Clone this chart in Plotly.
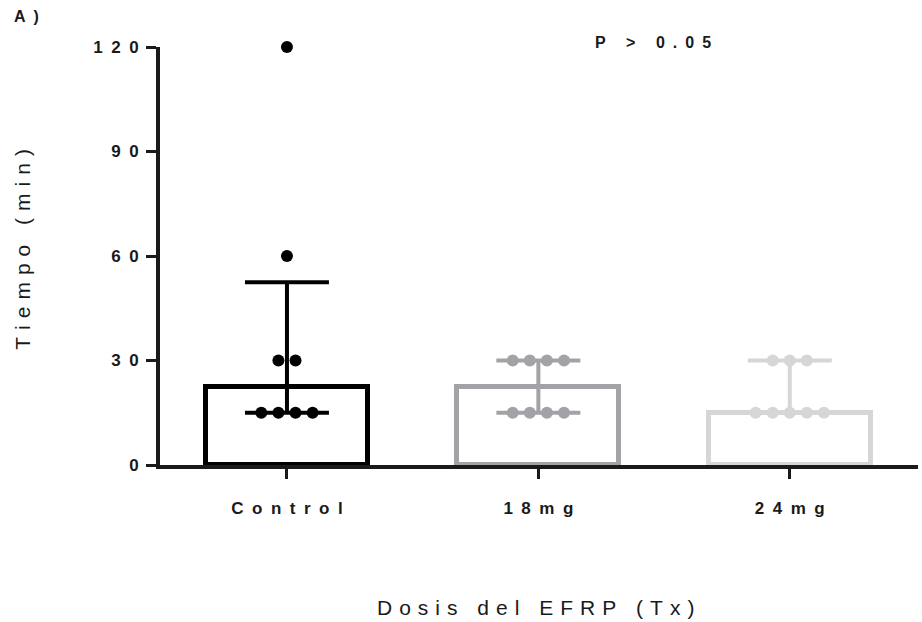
import numpy as np
import plotly.graph_objects as go

# ---- data ----
groups = ["Control", "18mg", "24mg"]
control_vals = [120, 60, 30, 30, 15, 15, 15, 15]
mg18_vals = [30, 30, 30, 30, 15, 15, 15, 15]
mg24_vals = [30, 30, 30, 15, 15, 15, 15, 15]
y_ticks = [0, 30, 60, 90, 120]

colors = ["#000000", "#a3a3a7", "#d6d6d6"]
FONT = "Liberation Sans, Arial, sans-serif"
TXT = "#1a1a1a"
EN = "\u2002"
THIRD = "\u2004"


def spaced(s, gap=EN):
    return gap.join(list(s))


series = [control_vals, mg18_vals, mg24_vals]
xpos = list(range(len(groups)))
medians = [float(np.median(v)) for v in series]
q1 = [float(np.percentile(v, 25, method="weibull")) for v in series]
q3 = [float(np.percentile(v, 75, method="weibull")) for v in series]

fig = go.Figure()

# bars (median)
for i in xpos:
    fig.add_trace(go.Bar(
        x=[i], y=[medians[i]], width=0.645,
        marker=dict(color="rgba(255,255,255,0)", line=dict(color=colors[i], width=5)),
        showlegend=False, hoverinfo="skip"))

# IQR error bars
for i in xpos:
    fig.add_trace(go.Scatter(
        x=[i], y=[medians[i]], mode="markers",
        marker=dict(size=1, color="rgba(0,0,0,0)"),
        error_y=dict(type="data", symmetric=False,
                     array=[q3[i] - medians[i]], arrayminus=[medians[i] - q1[i]],
                     color=colors[i], thickness=4, width=42),
        showlegend=False, hoverinfo="skip", cliponaxis=False))

# points (spread horizontally where values repeat)
spacing = 0.068
for i in xpos:
    vals = np.array(series[i])
    xs, ys = [], []
    for u in np.unique(vals):
        k = int(np.sum(vals == u))
        offs = (np.arange(k) - (k - 1) / 2) * spacing
        xs += list(i + offs)
        ys += [float(u)] * k
    fig.add_trace(go.Scatter(
        x=xs, y=ys, mode="markers",
        marker=dict(size=12, color=colors[i], line=dict(width=0)),
        showlegend=False, cliponaxis=False))

fig.update_layout(
    width=922, height=622,
    margin=dict(l=160, r=4, t=47, b=157),
    plot_bgcolor="white", paper_bgcolor="white",
    font=dict(family=FONT, color=TXT),
    bargap=0,
    xaxis=dict(
        range=[-0.505, 2.51], tickvals=xpos, ticktext=[spaced(g) for g in groups],
        showgrid=False, zeroline=False, showline=True, linecolor=TXT, linewidth=4,
        ticks="outside", ticklen=10, tickwidth=3, tickcolor=TXT,
        tickfont=dict(size=17, weight="bold", family=FONT, color=TXT),
        ticklabelstandoff=15),
    yaxis=dict(
        range=[0, 120], tickvals=y_ticks, ticktext=[spaced(str(t)) for t in y_ticks],
        showgrid=False, zeroline=False, showline=True, linecolor=TXT, linewidth=4,
        ticks="outside", ticklen=10, tickwidth=3, tickcolor=TXT,
        tickfont=dict(size=17, weight="bold", family=FONT, color=TXT),
        ticklabelstandoff=4),
    annotations=[
        dict(text=spaced("Tiempo (min)", THIRD), xref="paper", yref="paper",
             x=-0.1807, y=0.515, textangle=-90, showarrow=False,
             xanchor="center", yanchor="middle",
             font=dict(size=21, family=FONT, color=TXT)),
        dict(text=spaced("Dosis del EFRP (Tx)", THIRD), xref="paper", yref="paper",
             x=0.495, y=-0.342, showarrow=False, xanchor="center", yanchor="middle",
             font=dict(size=21, family=FONT, color=TXT)),
        dict(text=spaced("P > 0.05"), xref="paper", yref="paper",
             x=0.650, y=1.0096, showarrow=False, xanchor="center", yanchor="middle",
             font=dict(size=16, weight="bold", family=FONT, color=TXT)),
        dict(text=spaced("A)"), xref="paper", yref="paper",
             x=-0.1755, y=1.0718, showarrow=False, xanchor="center", yanchor="middle",
             font=dict(size=16, weight="bold", family=FONT, color=TXT)),
    ],
)

fig.write_html("out.html")
